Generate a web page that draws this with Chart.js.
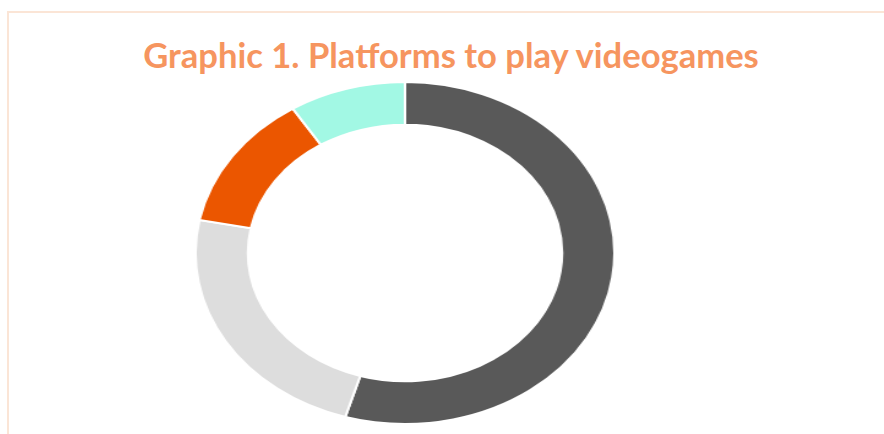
<!DOCTYPE html>
<html>
<head>
<meta charset="utf-8">
<script src="https://cdn.jsdelivr.net/npm/chart.js@4/dist/chart.umd.min.js"></script>
<style>
    html, body { margin: 0; padding: 0; background: #fff; }
    body { width: 884px; height: 434px; position: relative; overflow: hidden; }
    #frame {
        position: absolute; left: 7px; top: 11px; width: 900px; height: 450px;
        border-left: 2px solid #FBE5D6; border-top: 2px solid #FBE5D6;
    }
    #title {
        position: absolute; left: 0; top: 38px; width: 902px; text-align: center;
        font-family: Lato, "Open Sans", sans-serif; font-weight: bold;
        color: #F6955F; white-space: nowrap; line-height: 1;
    }
    #wrap {
        position: absolute; left: 233px; top: 81px; width: 344px; height: 344px;
        transform: scaleX(1.225); transform-origin: 50% 50%;
    }
</style>
</head>
<body>
<div id="frame"></div>
<div id="title">Graphic 1. Platforms to play videogames</div>
<div id="wrap"><canvas id="donut"></canvas></div>
<script>
// datos (porcentaje aproximado de cada plataforma)
const plataformas = ['Mobile phone', 'Computer', 'Console', 'Other'];
const valores = [54.6, 23.5, 12.9, 9.0];
const colores = ['#595959', '#DDDDDD', '#EB5600', '#A2F8E4'];

// ajustar el tamaño del título al ancho del original
const titulo = document.getElementById('title');
const ctxMedida = document.createElement('canvas').getContext('2d');
ctxMedida.font = 'bold 100px Lato';
const anchoBase = ctxMedida.measureText(titulo.textContent).width;
titulo.style.fontSize = (100 * 618 / anchoBase).toFixed(1) + 'px';

const config = {
    type: 'doughnut',
    data: {
        labels: plataformas,
        datasets: [{
            data: valores,
            backgroundColor: colores,
            borderColor: '#ffffff',
            borderWidth: 2
        }]
    },
    options: {
        responsive: true,
        maintainAspectRatio: false,
        animation: false,
        cutout: '75%',
        plugins: {
            legend: { display: false },
            tooltip: { enabled: false }
        }
    }
};

new Chart(document.getElementById('donut'), config);
</script>
</body>
</html>
